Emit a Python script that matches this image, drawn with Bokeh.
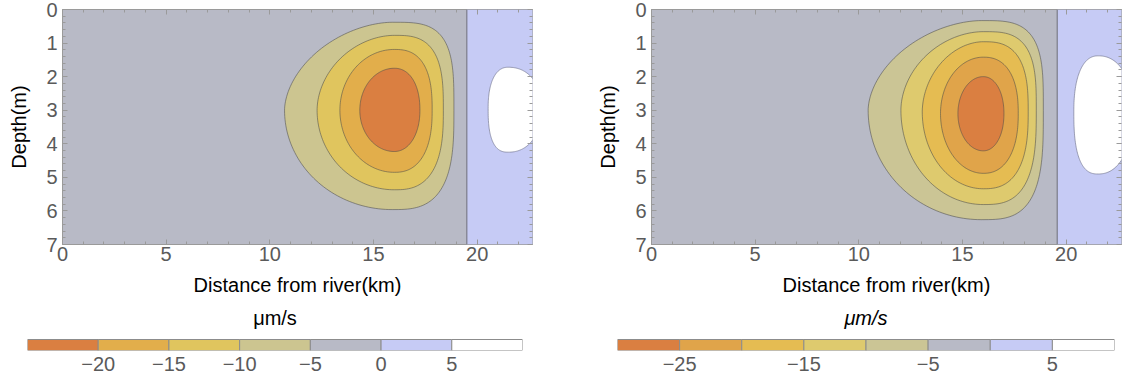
import numpy as np
from bokeh.plotting import figure
from bokeh.models import Range1d, LinearAxis, FixedTicker, Span
from bokeh.layouts import row, column
from bokeh.embed import file_html
from bokeh.resources import INLINE
from bokeh.core.properties import value

FONT = "Liberation Sans"

# ---------------- data ----------------
x_max = 22.67          # km, right edge of the domain
depth_max = 7.0        # m
x_ticks = [0, 5, 10, 15, 20]
depth_ticks = [0, 1, 2, 3, 4, 5, 6, 7]

# left panel: closed contour levels (outer -> inner)
left_levels = [-5, -10, -15, -20]
left_xmin = [10.71, 12.28, 13.38, 14.34]
left_xmax = [18.88, 18.37, 17.83, 17.24]
left_dtop = [0.38, 0.77, 1.19, 1.75]
left_dbot = [5.96, 5.37, 4.85, 4.23]
left_xc = [15.9, 16.0, 16.0, 16.0]
left_dc = [3.0, 3.0, 3.0, 3.0]
left_n_ul = [1.8, 1.9, 2.0, 2.0]
left_n_ll = [2.0, 2.0, 2.0, 2.0]
left_n_ur = [3.5, 3.0, 2.6, 2.2]
left_n_lr = [3.0, 2.7, 2.4, 2.1]
left_zero_x = 19.5
# +5 level (white) region
left_pos = dict(xmin=20.53, xmax=23.1, dtop=1.72, dbot=4.25, xc=21.5, dc=2.95)

# right panel
right_levels = [-5, -10, -15, -20, -25]
right_xmin = [10.45, 12.03, 13.06, 13.94, 14.78]
right_xmax = [18.9, 18.56, 18.17, 17.69, 17.0]
right_dtop = [0.33, 0.66, 0.96, 1.42, 2.0]
right_dbot = [6.26, 5.81, 5.34, 4.88, 4.21]
right_xc = [15.9, 16.0, 16.0, 16.0, 16.0]
right_dc = [3.0, 3.0, 3.05, 3.1, 3.1]
right_n_ul = [1.8, 1.9, 1.9, 2.0, 2.0]
right_n_ll = [2.0, 2.0, 2.0, 2.0, 2.0]
right_n_ur = [3.5, 3.2, 2.8, 2.4, 2.1]
right_n_lr = [3.2, 2.9, 2.6, 2.3, 2.1]
right_zero_x = 19.57
right_pos = dict(xmin=20.37, xmax=23.2, dtop=1.38, dbot=4.9, xc=21.55, dc=3.05)

# colour bars
left_cb_edges = [-25, -20, -15, -10, -5, 0, 5, 10]
left_cb_colors = ["#DA7F41", "#E2AE4B", "#E0C55E", "#CCC590", "#B8BAC6", "#C6CBF5", "#FFFFFF"]
left_cb_ticks = [-20, -15, -10, -5, 0, 5]
right_cb_edges = [-30, -25, -20, -15, -10, -5, 0, 5, 10]
right_cb_colors = ["#DA7F41", "#E0A44A", "#E5BC52", "#DECA6E", "#CBC595", "#B8BAC6", "#C6CBF5", "#FFFFFF"]
right_cb_ticks = [-25, -15, -5, 5]

GREY = "#B8BAC6"
BLUE = "#C6CBF5"
TICK_COL = "#5a5a5a"


def blob(xc, dc, xmin, xmax, dtop, dbot, n_ul, n_ll, n_ur, n_lr, npts=200):
    xs, ys = [], []
    for t in np.linspace(0, 2 * np.pi, npts, endpoint=False):
        c, s = np.cos(t), np.sin(t)
        right = c >= 0
        deep = s >= 0
        if right and not deep:
            n = n_ur
        elif right and deep:
            n = n_lr
        elif not right and deep:
            n = n_ll
        else:
            n = n_ul
        a = (xmax - xc) if right else (xc - xmin)
        b = (dbot - dc) if deep else (dc - dtop)
        xs.append(xc + a * np.sign(c) * abs(c) ** (2.0 / n))
        ys.append(dc + b * np.sign(s) * abs(s) ** (2.0 / n))
    return xs, ys


def style_axis(ax, ticks, minor, labels=True):
    ax.ticker = FixedTicker(ticks=ticks, minor_ticks=minor)
    ax.axis_line_color = None
    ax.major_tick_in = 5
    ax.major_tick_out = 0
    ax.minor_tick_in = 3
    ax.minor_tick_out = 0
    ax.major_tick_line_color = "#9a9a9a"
    ax.minor_tick_line_color = "#9a9a9a"
    if labels:
        ax.major_label_text_font = FONT
        ax.major_label_text_font_size = "20px"
        ax.major_label_text_color = TICK_COL
        ax.axis_label_text_font = FONT
        ax.axis_label_text_font_size = "20px"
        ax.axis_label_text_font_style = "normal"
        ax.axis_label_text_color = "#000000"
    else:
        ax.major_label_overrides = {t: "" for t in ticks}
        ax.major_label_standoff = 0


def panel(width, bl, br, levels, colors, xmin, xmax, dtop, dbot, xc, dc,
          n_ul, n_ll, n_ur, n_lr, zero_x, pos):
    p = figure(width=width, height=300, x_range=Range1d(0, x_max),
               y_range=Range1d(depth_max, 0), output_backend="svg",
               toolbar_location=None, min_border_left=bl, min_border_right=br,
               min_border_top=9, min_border_bottom=56)
    p.background_fill_color = GREY
    p.border_fill_color = "white"
    p.outline_line_color = "#9a9a9a"
    p.grid.visible = False
    p.quad(left=[zero_x], right=[x_max + 1], top=[0], bottom=[depth_max],
           fill_color=BLUE, line_color=None)
    wx, wy = blob(pos["xc"], pos["dc"], pos["xmin"], pos["xmax"], pos["dtop"],
                  pos["dbot"], 2.3, 2.6, 2.2, 2.2)
    p.patch(wx, wy, fill_color="white", line_color="#7a7d95", line_alpha=0.7, line_width=1)
    p.add_layout(Span(location=zero_x, dimension="height", line_color="#80828f",
                      line_width=1.3))
    for i in range(len(levels)):
        bx, by = blob(xc[i], dc[i], xmin[i], xmax[i], dtop[i], dbot[i],
                      n_ul[i], n_ll[i], n_ur[i], n_lr[i])
        p.patch(bx, by, fill_color=colors[i], line_color="#4a4a4a",
                line_alpha=0.55, line_width=1)
    xminor = list(range(0, 23))
    yminor = [round(v * 0.2, 1) for v in range(0, 36)]
    style_axis(p.xaxis[0], x_ticks, xminor)
    style_axis(p.yaxis[0], depth_ticks, yminor)
    p.xaxis[0].axis_label = "Distance from river(km)"
    p.yaxis[0].axis_label = "Depth(m)"
    p.xaxis[0].major_label_standoff = 2
    p.xaxis[0].axis_label_standoff = 10
    p.yaxis[0].major_label_standoff = 5
    p.yaxis[0].axis_label_standoff = 13
    top_ax = LinearAxis()
    right_ax = LinearAxis()
    style_axis(top_ax, x_ticks, xminor, labels=False)
    style_axis(right_ax, depth_ticks, yminor, labels=False)
    p.add_layout(top_ax, "above")
    p.add_layout(right_ax, "right")
    return p


def colorbar(width, bl, fw, edges, colors, ticks, italic):
    p = figure(width=width, height=83, x_range=Range1d(edges[0], edges[-1]),
               y_range=Range1d(0, 5), output_backend="svg", toolbar_location=None,
               min_border_left=bl, min_border_right=width - bl - fw,
               min_border_top=0, min_border_bottom=33)
    p.outline_line_color = None
    p.grid.visible = False
    p.yaxis.visible = False
    p.quad(left=edges[:-1], right=edges[1:], bottom=0, top=1.1, fill_color=colors,
           line_color="#8c8c8c", line_width=1)
    mid = 0.5 * (edges[0] + edges[-1])
    p.text(x=[mid], y=[3.3], text=["μm/s"], text_font=value(FONT),
           text_font_size="20px", text_align="center", text_baseline="middle",
           text_color="#000000", text_font_style="italic" if italic else "normal")
    ax = p.xaxis[0]
    ax.ticker = FixedTicker(ticks=ticks)
    ax.major_label_overrides = {t: (str(t).replace("-", "−")) for t in ticks}
    ax.axis_line_color = None
    ax.major_tick_line_color = None
    ax.minor_tick_line_color = None
    ax.major_tick_in = 0
    ax.major_tick_out = 0
    ax.major_label_standoff = 6
    ax.major_label_text_font = FONT
    ax.major_label_text_font_size = "20px"
    ax.major_label_text_color = TICK_COL
    return p


left_fill = ["#CCC590", "#E0C55E", "#E2AE4B", "#DA7F41"]
right_fill = ["#CBC595", "#DECA6E", "#E5BC52", "#E0A44A", "#DA7F41"]

p1 = panel(594, 62, 62, left_levels, left_fill, left_xmin, left_xmax, left_dtop,
           left_dbot, left_xc, left_dc, left_n_ul, left_n_ll, left_n_ur, left_n_lr,
           left_zero_x, left_pos)
p2 = panel(534, 57, 7, right_levels, right_fill, right_xmin, right_xmax, right_dtop,
           right_dbot, right_xc, right_dc, right_n_ul, right_n_ll, right_n_ur,
           right_n_lr, right_zero_x, right_pos)
c1 = colorbar(594, 27, 495, left_cb_edges, left_cb_colors, left_cb_ticks, False)
c2 = colorbar(534, 23, 497, right_cb_edges, right_cb_colors, right_cb_ticks, True)

layout = column(row(p1, p2, spacing=0), row(c1, c2, spacing=0), spacing=0)
open("out.html", "w").write(file_html(layout, INLINE))
